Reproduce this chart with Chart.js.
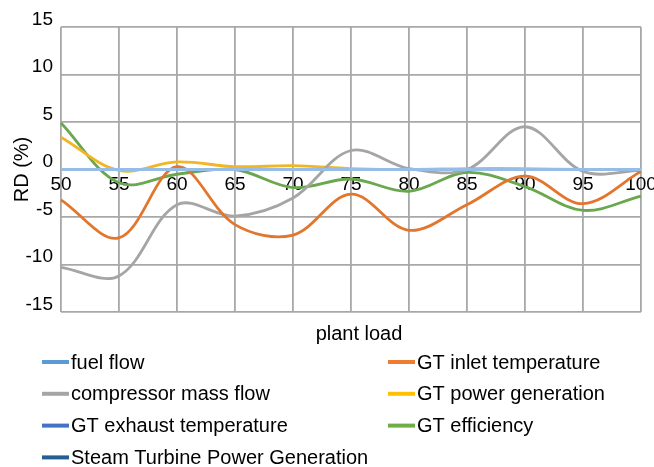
<!DOCTYPE html>
<html>
<head>
<meta charset="utf-8">
<script src="https://cdn.jsdelivr.net/npm/chart.js@4.4.1/dist/chart.umd.min.js"></script>
<style>
  html, body { margin: 0; padding: 0; background: #fff; }
  canvas { display: block; }
</style>
</head>
<body>
<canvas id="chart" width="654" height="467"></canvas>
<script>
// plant load (%) on the x axis
const loads = ['50', '55', '60', '65', '70', '75', '80', '85', '90', '95', '100']

// relative deviation RD (%) per series
const fuelFlow = [0, 0, 0, 0, 0, 0, 0, 0, 0, 0, 0]
const gtInletTemp = [-3.2, -7.2, 0.3, -5.8, -6.9, -2.6, -6.4, -3.7, -0.7, -3.6, -0.2]
const compressorFlow = [-10.3, -11.2, -3.7, -4.9, -3.0, 2.0, 0.1, 0.0, 4.5, -0.2, -0.1]
const gtPower = [3.4, -0.1, 0.8, 0.3, 0.4, 0.1, 0.0, 0.1, 0.1, 0.0, 0.0]
const gtExhaustTemp = [0, 0, 0, 0, 0, 0, 0, 0, 0, 0, 0]
const gtEfficiency = [4.9, -1.4, -0.5, 0.0, -1.9, -1.0, -2.3, -0.3, -1.8, -4.3, -2.8]
const steamPower = [0, 0, 0, 0, 0, 0, 0, 0, 0, 0, 0]

const yTicks = [-15, -10, -5, 0, 5, 10, 15]
const xTitle = 'plant load'
const yTitle = 'RD (%)'

const gridColor = '#a8a8a8'
const font = 'Liberation Sans, Arial, sans-serif'

function serie(label, data, color) {
    return {
        label, data,
        borderColor: color,
        backgroundColor: color,
        borderWidth: 2.8,
        pointRadius: 0,
        tension: 0.35,
        fill: false
    }
}

const datasets = [
    serie('fuel flow', fuelFlow, '#97bde6'),
    serie('GT inlet temperature', gtInletTemp, '#e3762d'),
    serie('compressor mass flow', compressorFlow, '#a5a5a5'),
    serie('GT power generation', gtPower, '#f2b624'),
    serie('GT exhaust temperature', gtExhaustTemp, '#4472c4'),
    serie('GT efficiency', gtEfficiency, '#6aa84f'),
    serie('Steam Turbine Power Generation', steamPower, '#255e91')
]
// legend swatch colours as in the original key
const legendColors = ['#5b9bd5', '#ed7d31', '#a5a5a5', '#ffc000', '#4472c4', '#70ad47', '#255e91']

// x title + two-column legend under the plot
const bottomText = {
    id: 'bottomText',
    afterDraw(chart) {
        const ctx = chart.ctx
        ctx.save()
        ctx.fillStyle = '#000'
        ctx.font = '20px ' + font
        ctx.textAlign = 'center'
        ctx.textBaseline = 'middle'
        ctx.fillText(xTitle, 359, 334)

        ctx.textAlign = 'left'
        chart.data.datasets.forEach((ds, i) => {
            const col = i % 2
            const row = Math.floor(i / 2)
            const x0 = col === 0 ? 42 : 388
            const y = 362 + row * 31.8
            ctx.strokeStyle = legendColors[i]
            ctx.lineWidth = 4
            ctx.beginPath()
            ctx.moveTo(x0, y)
            ctx.lineTo(x0 + 27, y)
            ctx.stroke()
            ctx.fillStyle = '#000'
            ctx.fillText(ds.label, x0 + 29, y + 1)
        })
        ctx.restore()
    }
}

new Chart('chart', {
    type: 'line',
    data: { labels: loads, datasets },
    options: {
        responsive: false,
        animation: false,
        layout: { padding: { top: 27, right: 13, bottom: 155, left: 0 } },
        plugins: {
            legend: { display: false },
            tooltip: { enabled: false }
        },
        scales: {
            x: {
                type: 'category',
                offset: false,
                position: { y: 0 },
                grid: { color: gridColor, lineWidth: 1.8, drawTicks: false },
                border: { display: false },
                ticks: {
                    color: '#000',
                    font: { family: font, size: 19 },
                    padding: 4,
                    maxRotation: 0,
                    autoSkip: false
                },
                afterFit(scale) {
                    scale.height = 0
                    scale.paddingLeft = 0
                    scale.paddingRight = 0
                }
            },
            y: {
                min: -15,
                max: 15,
                afterBuildTicks(scale) {
                    scale.ticks = yTicks.map(v => ({ value: v }))
                },
                grid: { color: gridColor, lineWidth: 1.8, drawTicks: false },
                border: { display: false },
                ticks: {
                    color: '#000',
                    font: { family: font, size: 19 },
                    padding: 8,
                    labelOffset: -7.5
                },
                title: {
                    display: true,
                    text: yTitle,
                    color: '#000',
                    font: { family: font, size: 20 },
                    padding: { top: 10, bottom: 0 }
                },
                afterFit(scale) {
                    scale.width = 61
                }
            }
        }
    },
    plugins: [bottomText]
});
</script>
</body>
</html>
